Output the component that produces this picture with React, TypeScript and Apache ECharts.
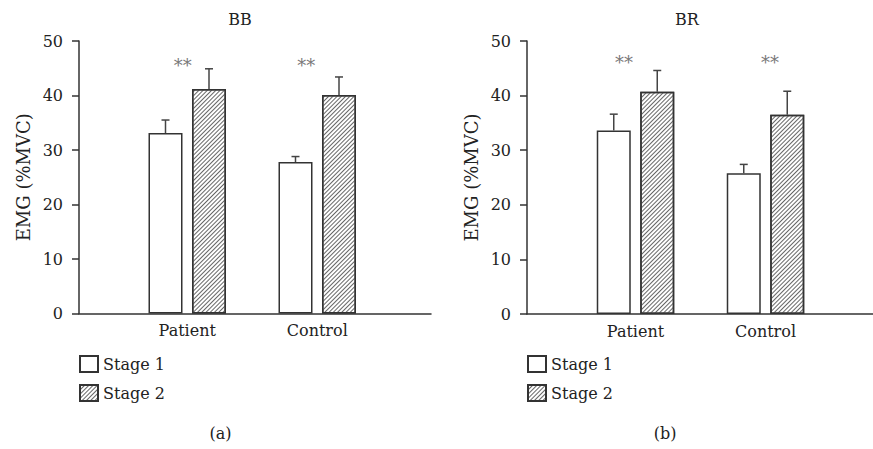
import React, { useEffect, useRef } from "react";
import * as echarts from "echarts";

const categories = ["Patient", "Control"];
const legendNames = ["Stage 1", "Stage 2"];
const yTicks = { min: 0, max: 50, interval: 10 };

// BB panel
const bbStage1 = [33.1, 27.8];
const bbStage1Err = [2.4, 1.0];
const bbStage2 = [41.2, 40.1];
const bbStage2Err = [3.7, 3.3];
const bbSigY = [45.5, 45.5];
const bbSigLabels = ["**", "**"];

// BR panel
const brStage1 = [33.6, 25.8];
const brStage1Err = [3.0, 1.6];
const brStage2 = [40.7, 36.5];
const brStage2Err = [3.9, 4.3];
const brSigY = [46.0, 46.0];
const brSigLabels = ["**", "**"];

const FONT = "DejaVu Serif";
const TEXT = "#222";
const LINE = "#333";
const BAR_W = 34;
const BAR_GAP_PX = 9.5;

const hatch = {
  symbol: "rect",
  symbolSize: 1,
  color: "#666",
  backgroundColor: "#fff",
  dashArrayX: [1, 0],
  dashArrayY: [1, 2],
  rotation: -Math.PI / 4,
};

function axisGrid(idx: number) {
  return {
    x: {
      type: "value",
      gridIndex: idx,
      min: 0,
      max: 1,
      axisLine: { show: true, lineStyle: { color: LINE, width: 1.5 } },
      axisTick: { show: false },
      axisLabel: { show: false },
      splitLine: { show: false },
    },
    y: {
      type: "value",
      gridIndex: idx,
      min: yTicks.min,
      max: yTicks.max,
      interval: yTicks.interval,
      name: "EMG (%MVC)",
      nameLocation: "middle",
      nameGap: 47,
      nameTextStyle: { fontFamily: FONT, fontSize: 18, color: TEXT },
      axisLine: { show: true, lineStyle: { color: LINE, width: 1.5 } },
      axisTick: { show: true, inside: false, length: 7, lineStyle: { color: LINE, width: 1.5 } },
      axisLabel: { fontFamily: FONT, fontSize: 16, color: TEXT, margin: 16 },
      splitLine: { show: false },
    },
  };
}

function barGrid(idx: number) {
  return {
    x: {
      type: "category",
      gridIndex: idx,
      data: categories,
      axisLine: { show: false },
      axisTick: { show: false },
      axisLabel: { fontFamily: FONT, fontSize: 16, color: TEXT, margin: 9 },
    },
    y: {
      type: "value",
      gridIndex: idx,
      min: yTicks.min,
      max: yTicks.max,
      show: false,
    },
  };
}

function errSeries(axisIdx: number, means: number[], errs: number[], offsetSign: number) {
  return {
    type: "custom",
    xAxisIndex: axisIdx,
    yAxisIndex: axisIdx,
    z: 5,
    silent: true,
    encode: { x: 0, y: 1 },
    data: means.map((m, i) => [i, m, errs[i]]),
    renderItem: (params: any, api: any) => {
      const cat = api.value(0);
      const mean = api.value(1);
      const err = api.value(2);
      const p0 = api.coord([cat, mean]);
      const p1 = api.coord([cat, mean + err]);
      const x = p0[0] + offsetSign * (BAR_W + BAR_GAP_PX) / 2;
      const style = { stroke: "#444", lineWidth: 1.5 };
      return {
        type: "group",
        children: [
          { type: "line", shape: { x1: x, y1: p0[1], x2: x, y2: p1[1] }, style },
          { type: "line", shape: { x1: x - 4, y1: p1[1], x2: x + 4, y2: p1[1] }, style },
        ],
      };
    },
  };
}

function sigSeries(axisIdx: number, ys: number[], labels: string[], offsets: number[]) {
  return {
    type: "scatter",
    xAxisIndex: axisIdx,
    yAxisIndex: axisIdx,
    symbolSize: 1,
    silent: true,
    itemStyle: { color: "rgba(0,0,0,0)" },
    data: ys.map((y, i) => ({
      value: [i, y],
      label: {
        show: true,
        position: "inside",
        formatter: labels[i],
        offset: [offsets[i], 0],
        fontFamily: FONT,
        fontSize: 18,
        color: "#555",
      },
    })),
  };
}

function barSeries(axisIdx: number, name: string, data: number[], hatched: boolean) {
  return {
    type: "bar",
    name,
    xAxisIndex: axisIdx,
    yAxisIndex: axisIdx,
    barWidth: BAR_W,
    barGap: (BAR_GAP_PX / BAR_W) * 100 + "%",
    data,
    itemStyle: hatched
      ? { color: "#fff", borderColor: LINE, borderWidth: 1.5, decal: hatch }
      : { color: "#fff", borderColor: LINE, borderWidth: 1.5 },
  };
}

export default function App() {
  const ref = useRef<HTMLDivElement>(null);
  useEffect(() => {
    if (!ref.current) return;
    const chart = echarts.init(ref.current, undefined, { renderer: "svg" });
    const a0 = axisGrid(0);
    const b1 = barGrid(1);
    const a2 = axisGrid(2);
    const b3 = barGrid(3);
    const legendBase = {
      orient: "vertical",
      padding: 0,
      itemWidth: 18,
      itemHeight: 16,
      itemGap: 11,
      icon: "rect",
      selectedMode: false,
      textStyle: { fontFamily: FONT, fontSize: 16, color: TEXT },
      data: legendNames,
    };
    const option: any = {
      animation: false,
      aria: { enabled: false },
      grid: [
        { left: 79, top: 41, width: 352, height: 272.5 },
        { left: 122.25, top: 41, width: 260, height: 272.5 },
        { left: 527, top: 41, width: 346, height: 273 },
        { left: 570.5, top: 41, width: 260, height: 273 },
      ],
      xAxis: [a0.x, b1.x, a2.x, b3.x],
      yAxis: [a0.y, b1.y, a2.y, b3.y],
      legend: [
        { ...legendBase, left: 79, top: 355 },
        { ...legendBase, left: 527, top: 355 },
      ],
      graphic: [
        { type: "text", x: 240, y: 19, style: { text: "BB", font: `16px "${FONT}"`, fill: TEXT, align: "center", verticalAlign: "middle" } },
        { type: "text", x: 687, y: 19, style: { text: "BR", font: `16px "${FONT}"`, fill: TEXT, align: "center", verticalAlign: "middle" } },
        { type: "text", x: 220.5, y: 433.5, style: { text: "(a)", font: `16px "${FONT}"`, fill: TEXT, align: "center", verticalAlign: "middle" } },
        { type: "text", x: 665, y: 433.5, style: { text: "(b)", font: `16px "${FONT}"`, fill: TEXT, align: "center", verticalAlign: "middle" } },
      ],
      series: [
        barSeries(1, legendNames[0], bbStage1, false),
        barSeries(1, legendNames[1], bbStage2, true),
        errSeries(1, bbStage1, bbStage1Err, -1),
        errSeries(1, bbStage2, bbStage2Err, 1),
        sigSeries(1, bbSigY, bbSigLabels, [-4.5, -11]),
        barSeries(3, legendNames[0], brStage1, false),
        barSeries(3, legendNames[1], brStage2, true),
        errSeries(3, brStage1, brStage1Err, -1),
        errSeries(3, brStage2, brStage2Err, 1),
        sigSeries(3, brSigY, brSigLabels, [-11.5, 4.5]),
      ],
    };
    chart.setOption(option);
    return () => chart.dispose();
  }, []);
  return (
    <div
      ref={ref}
      style={{ position: "fixed", left: 0, top: 0, width: 873, height: 449, background: "#fff" }}
    />
  );
}
